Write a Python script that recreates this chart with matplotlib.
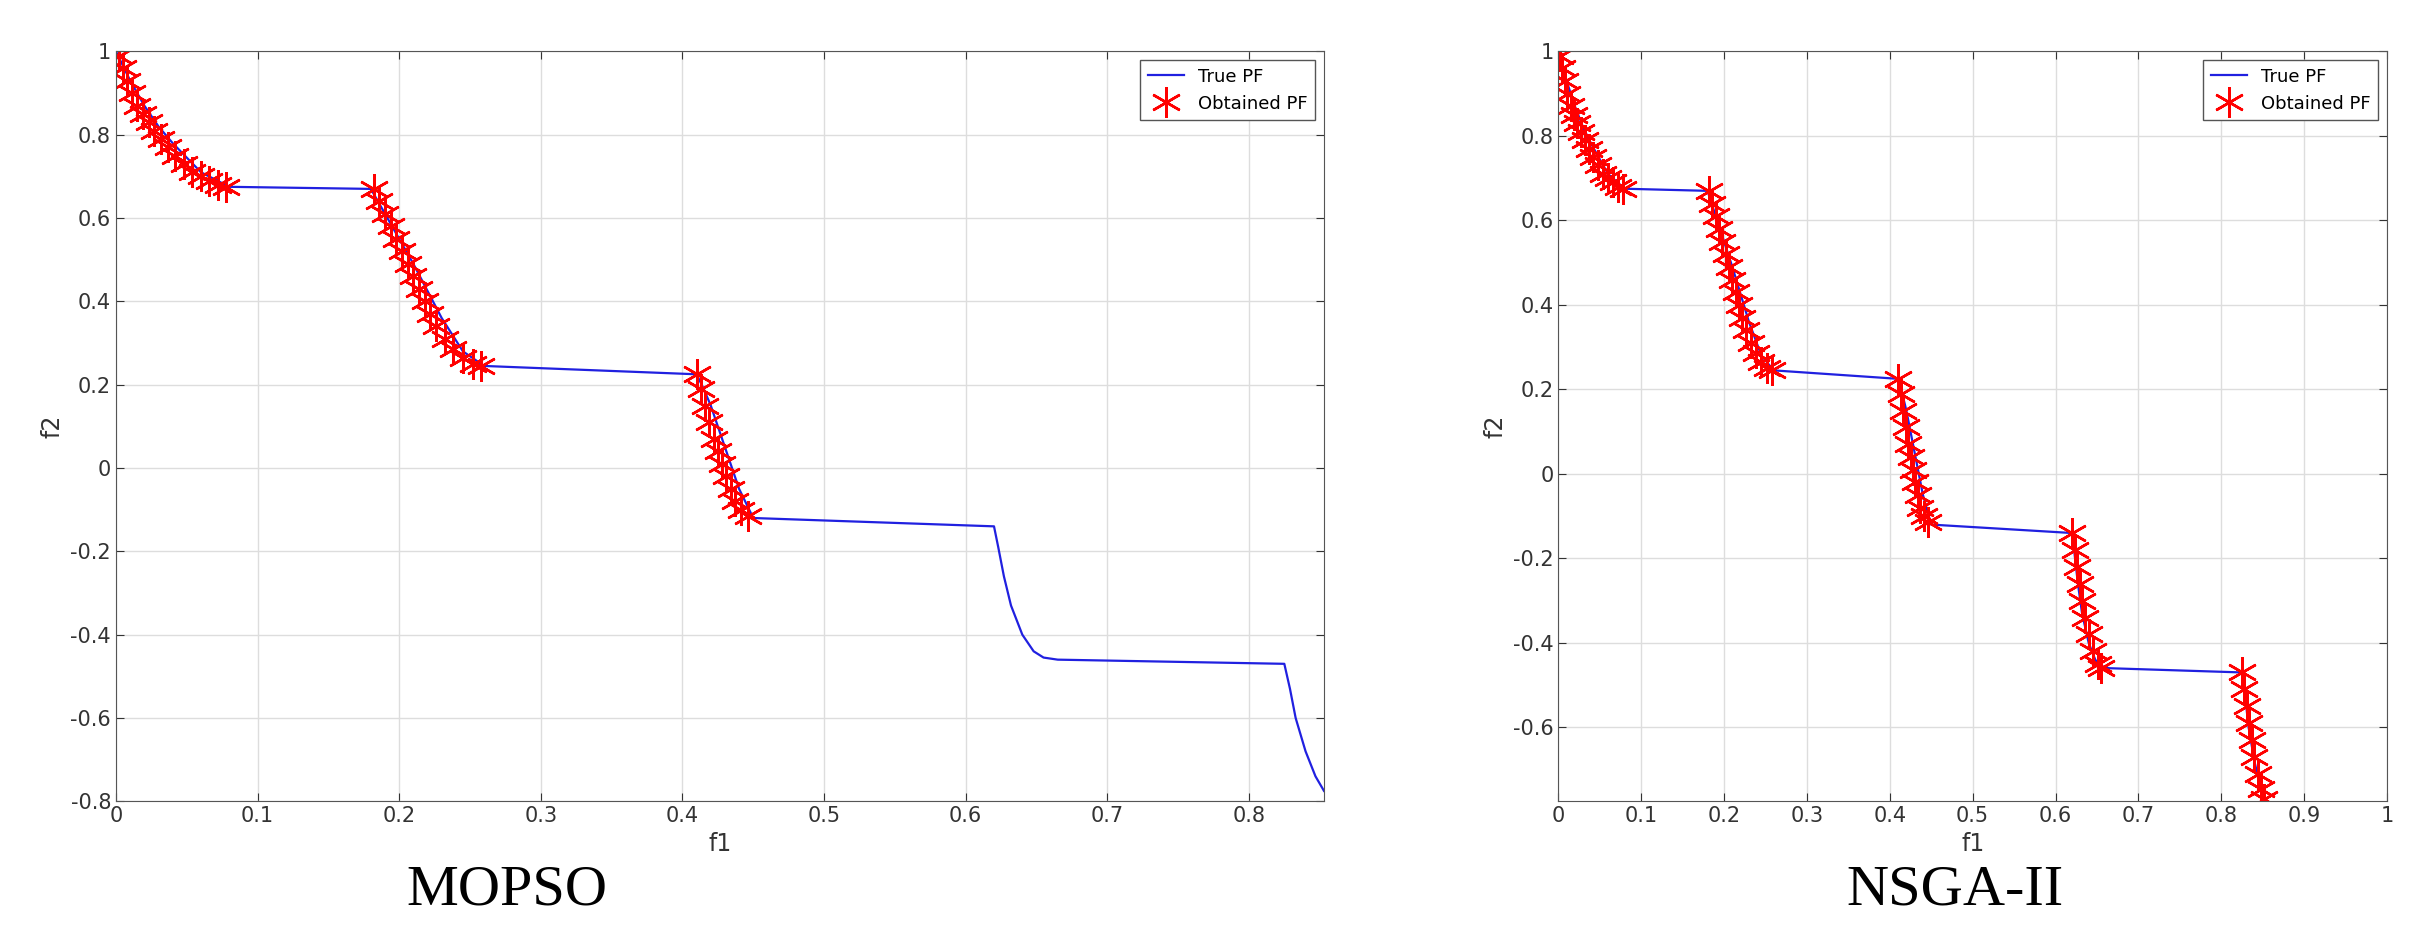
import matplotlib.pyplot as plt
import numpy as np

# True Pareto front
true_f1 = [0, 0.01, 0.02, 0.03, 0.04, 0.06, 0.08, 0.18, 0.185, 0.19, 0.21, 0.23, 0.245, 0.26,
           0.41, 0.415, 0.42, 0.43, 0.44, 0.45, 0.62, 0.623, 0.627, 0.632, 0.64, 0.648, 0.655, 0.665,
           0.825, 0.829, 0.833, 0.84, 0.847, 0.853]
true_f2 = [1.0, 0.93, 0.87, 0.82, 0.78, 0.71, 0.675, 0.67, 0.64, 0.61, 0.49, 0.36, 0.28, 0.245,
           0.225, 0.19, 0.15, 0.05, -0.05, -0.12, -0.14, -0.19, -0.26, -0.33, -0.40, -0.44, -0.455, -0.46,
           -0.47, -0.53, -0.6, -0.68, -0.74, -0.775]

# Obtained PF segments
seg1_f1 = [0.002, 0.005, 0.008, 0.011, 0.015, 0.019, 0.023, 0.027, 0.032, 0.037, 0.042, 0.048, 0.054, 0.06, 0.066, 0.072, 0.078]
seg1_f2 = [0.99, 0.96, 0.93, 0.90, 0.87, 0.85, 0.83, 0.81, 0.79, 0.77, 0.75, 0.73, 0.71, 0.70, 0.69, 0.68, 0.675]
seg2_f1 = [0.182, 0.186, 0.19, 0.194, 0.198, 0.202, 0.206, 0.21, 0.214, 0.218, 0.222, 0.226, 0.232, 0.238, 0.245, 0.252, 0.258]
seg2_f2 = [0.67, 0.64, 0.61, 0.58, 0.55, 0.52, 0.49, 0.46, 0.43, 0.40, 0.37, 0.34, 0.31, 0.285, 0.265, 0.25, 0.245]
seg3_f1 = [0.41, 0.413, 0.416, 0.419, 0.422, 0.425, 0.428, 0.431, 0.434, 0.437, 0.441, 0.446]
seg3_f2 = [0.225, 0.19, 0.15, 0.11, 0.07, 0.04, 0.01, -0.02, -0.05, -0.08, -0.10, -0.115]
seg4_f1 = [0.62, 0.623, 0.626, 0.629, 0.632, 0.636, 0.64, 0.645, 0.651, 0.655]
seg4_f2 = [-0.14, -0.18, -0.22, -0.26, -0.30, -0.34, -0.38, -0.42, -0.45, -0.46]
seg5_f1 = [0.825, 0.828, 0.831, 0.834, 0.837, 0.84, 0.844, 0.848, 0.852]
seg5_f2 = [-0.47, -0.51, -0.55, -0.59, -0.63, -0.67, -0.71, -0.745, -0.77]

mopso_f1 = seg1_f1 + seg2_f1 + seg3_f1
mopso_f2 = seg1_f2 + seg2_f2 + seg3_f2
nsga_f1 = seg1_f1 + seg2_f1 + seg3_f1 + seg4_f1 + seg5_f1
nsga_f2 = seg1_f2 + seg2_f2 + seg3_f2 + seg4_f2 + seg5_f2

fig = plt.figure(figsize=(24.16, 9.35), dpi=100)
ax1 = fig.add_axes([0.048, 0.143, 0.500, 0.802])
ax2 = fig.add_axes([0.645, 0.143, 0.343, 0.802])

star = (6, 2, 0)
panels = [
    (ax1, mopso_f1, mopso_f2, (0, 0.853), (-0.8, 1), np.arange(0, 0.81, 0.1), np.arange(-0.8, 1.01, 0.2), "MOPSO", 0.210),
    (ax2, nsga_f1, nsga_f2, (0, 1), (-0.775, 1), np.arange(0, 1.01, 0.1), np.arange(-0.6, 1.01, 0.2), "NSGA-II", 0.809),
]

for ax, xs, ys, xl, yl, xt, yt, name, tx in panels:
    ax.plot(true_f1, true_f2, color='#2020e0', lw=1.6, label='True PF')
    ax.plot(xs, ys, ls='none', marker=star, ms=22, mew=1.8, color='red', label='Obtained PF')
    ax.set_xlim(*xl)
    ax.set_ylim(*yl)
    ax.set_xticks(xt)
    ax.set_yticks(yt)
    ax.set_xticklabels(['%g' % (round(v, 1) + 0.0) for v in xt])
    ax.set_yticklabels(['%g' % (round(v, 1) + 0.0) for v in yt])
    ax.grid(True, color='#dddddd', lw=1.0)
    ax.tick_params(direction='in', top=True, right=True, labelsize=15, colors='#333333', length=6)
    for s in ax.spines.values():
        s.set_color('#555555')
    ax.set_xlabel('f1', fontsize=17, color='#333333')
    ax.set_ylabel('f2', fontsize=17, color='#333333')
    ax.legend(loc='upper right', fontsize=13, fancybox=False, edgecolor='#555555', framealpha=1)
    fig.text(tx, 0.048, name, ha='center', va='center', fontsize=42, family='Liberation Serif')

fig.savefig('out.png', dpi=100)
